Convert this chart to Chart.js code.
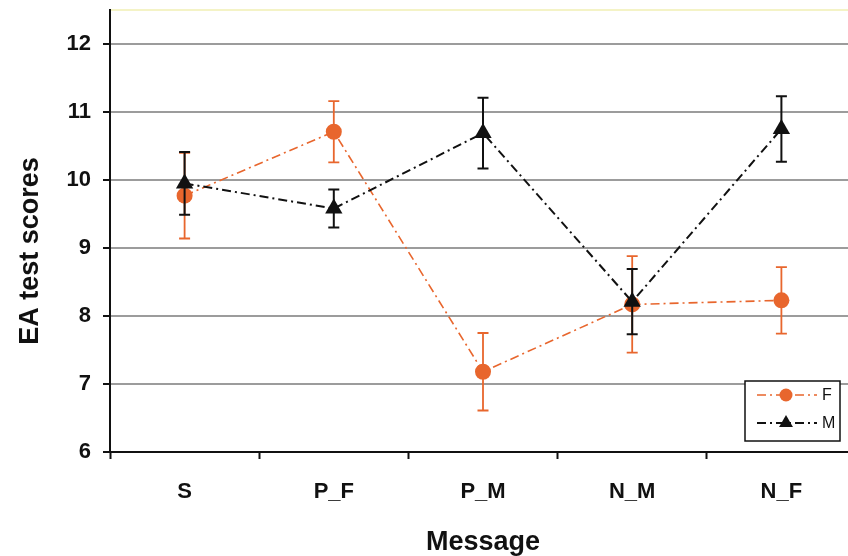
<!DOCTYPE html>
<html><head><meta charset="utf-8">
<script src="https://cdn.jsdelivr.net/npm/chart.js@4/dist/chart.umd.min.js"></script>
<style>html,body{margin:0;padding:0;background:#fff;overflow:hidden}#wrap{width:848px;height:556px;overflow:hidden}#inner{width:866px;height:556px}</style>
</head><body><div id="wrap"><div id="inner"><canvas id="c"></canvas></div></div>
<script>
const categories = ['S', 'P_F', 'P_M', 'N_M', 'N_F'];
const femaleScores = [9.77, 10.71, 7.18, 8.17, 8.23];
const femaleErrors = [0.63, 0.45, 0.57, 0.71, 0.49];
const maleScores = [9.95, 9.58, 10.69, 8.21, 10.75];
const maleErrors = [0.46, 0.28, 0.52, 0.48, 0.48];
const yTickValues = [6, 7, 8, 9, 10, 11, 12];
const seriesNames = ['F', 'M'];
const xTitle = 'Message';
const yTitle = 'EA test scores';

const ORANGE = '#e8662d';
const BLACK = '#111111';
const FONT = "'Liberation Sans', Arial, sans-serif";
const errorSets = [femaleErrors, maleErrors];

const errorBars = {
  id: 'errorBars',
  beforeDatasetDraw(chart, args) {
    const i = args.index;
    const ds = chart.data.datasets[i];
    const meta = chart.getDatasetMeta(i);
    const y = chart.scales.y;
    const ctx = chart.ctx;
    ctx.save();
    ctx.strokeStyle = ds.borderColor;
    ctx.lineWidth = i === 0 ? 1.8 : 2;
    ctx.setLineDash([]);
    meta.data.forEach((pt, k) => {
      const v = ds.data[k], e = errorSets[i][k];
      const yt = y.getPixelForValue(v + e), yb = y.getPixelForValue(v - e);
      ctx.beginPath();
      ctx.moveTo(pt.x, yt); ctx.lineTo(pt.x, yb);
      ctx.moveTo(pt.x - 5.5, yt); ctx.lineTo(pt.x + 5.5, yt);
      ctx.moveTo(pt.x - 5.5, yb); ctx.lineTo(pt.x + 5.5, yb);
      ctx.stroke();
    });
    ctx.restore();
  }
};

const extras = {
  id: 'extras',
  afterDraw(chart) {
    const ctx = chart.ctx;
    const ca = chart.chartArea;
    ctx.save();
    ctx.fillStyle = BLACK;
    ctx.font = 'bold 27px ' + FONT;
    ctx.textAlign = 'center';
    ctx.textBaseline = 'alphabetic';
    ctx.fillText(xTitle, (ca.left + ca.right) / 2, chart.height - 6);
    ctx.save();
    ctx.translate(38, (ca.top + ca.bottom) / 2 + 20);
    ctx.rotate(-Math.PI / 2);
    ctx.fillText(yTitle, 0, 0);
    ctx.restore();
    // legend
    const bx = 745, by = ca.bottom - 71, bw = 95, bh = 60;
    ctx.fillStyle = '#fff';
    ctx.fillRect(bx, by, bw, bh);
    ctx.strokeStyle = BLACK;
    ctx.lineWidth = 1.5;
    ctx.strokeRect(bx, by, bw, bh);
    chart.data.datasets.forEach((ds, i) => {
      const ry = by + 14 + i * 28;
      ctx.strokeStyle = ds.borderColor;
      ctx.lineWidth = ds.borderWidth;
      ctx.setLineDash(ds.borderDash);
      ctx.beginPath();
      ctx.moveTo(bx + 12, ry); ctx.lineTo(bx + 72, ry);
      ctx.stroke();
      ctx.setLineDash([]);
      ctx.fillStyle = ds.backgroundColor;
      const mx = bx + 41;
      ctx.beginPath();
      if (ds.pointStyle === 'circle') {
        ctx.arc(mx, ry, 6.5, 0, Math.PI * 2);
      } else {
        const r = 8;
        ctx.moveTo(mx, ry - r);
        ctx.lineTo(mx + r * 0.866, ry + r * 0.5);
        ctx.lineTo(mx - r * 0.866, ry + r * 0.5);
        ctx.closePath();
      }
      ctx.fill();
      ctx.fillStyle = BLACK;
      ctx.font = '16px ' + FONT;
      ctx.textAlign = 'left';
      ctx.textBaseline = 'middle';
      ctx.fillText(ds.label, bx + 77, ry + 1);
    });
    ctx.restore();
  }
};

new Chart(document.getElementById('c'), {
  type: 'line',
  data: {
    labels: categories,
    datasets: [
      {
        label: seriesNames[0], data: femaleScores, order: 2,
        borderColor: ORANGE, backgroundColor: ORANGE, borderWidth: 1.6,
        borderDash: [9, 4, 2, 4], pointStyle: 'circle', pointRadius: 8,
        pointBorderWidth: 0, pointBackgroundColor: ORANGE, tension: 0, fill: false
      },
      {
        label: seriesNames[1], data: maleScores, order: 1,
        borderColor: BLACK, backgroundColor: BLACK, borderWidth: 2,
        borderDash: [9, 4, 2, 4], pointStyle: 'triangle', pointRadius: 10,
        pointBorderWidth: 0, pointBackgroundColor: BLACK, tension: 0, fill: false
      }
    ]
  },
  options: {
    responsive: true, maintainAspectRatio: false, animation: false,
    layout: { padding: { top: 10, right: 0, bottom: 0, left: 0 } },
    plugins: { legend: { display: false }, tooltip: { enabled: false } },
    scales: {
      x: {
        type: 'category', offset: true,
        afterFit(s) { s.height = 104; s.paddingLeft = 0; s.paddingRight = 0; },
        grid: { display: true, drawOnChartArea: false, offset: true, tickLength: 7, tickColor: BLACK, tickWidth: 2 },
        border: { display: true, color: BLACK, width: 2 },
        ticks: { color: BLACK, padding: 20, font: { family: FONT, size: 22, weight: 'bold' }, maxRotation: 0 }
      },
      y: {
        min: yTickValues[0], max: 12.5,
        afterFit(s) { s.width = 110; s.paddingTop = 0; s.paddingBottom = 0; },
        afterBuildTicks(s) {
          s.ticks = yTickValues.map(v => ({ value: v })).concat([{ value: 12.5 }]);
        },
        grid: {
          color: c => c.tick && c.tick.value === 12.5 ? '#f4f3c6' : '#9c9c9c',
          lineWidth: 2, tickLength: 7, tickWidth: 2,
          tickColor: c => c.tick && c.tick.value === 12.5 ? 'rgba(0,0,0,0)' : BLACK
        },
        border: { display: true, color: BLACK, width: 2 },
        ticks: {
          color: BLACK, padding: 12, font: { family: FONT, size: 22, weight: 'bold' },
          callback: v => (yTickValues.includes(v) ? String(v) : '')
        }
      }
    }
  },
  plugins: [errorBars, extras]
});
</script>
</body></html>
